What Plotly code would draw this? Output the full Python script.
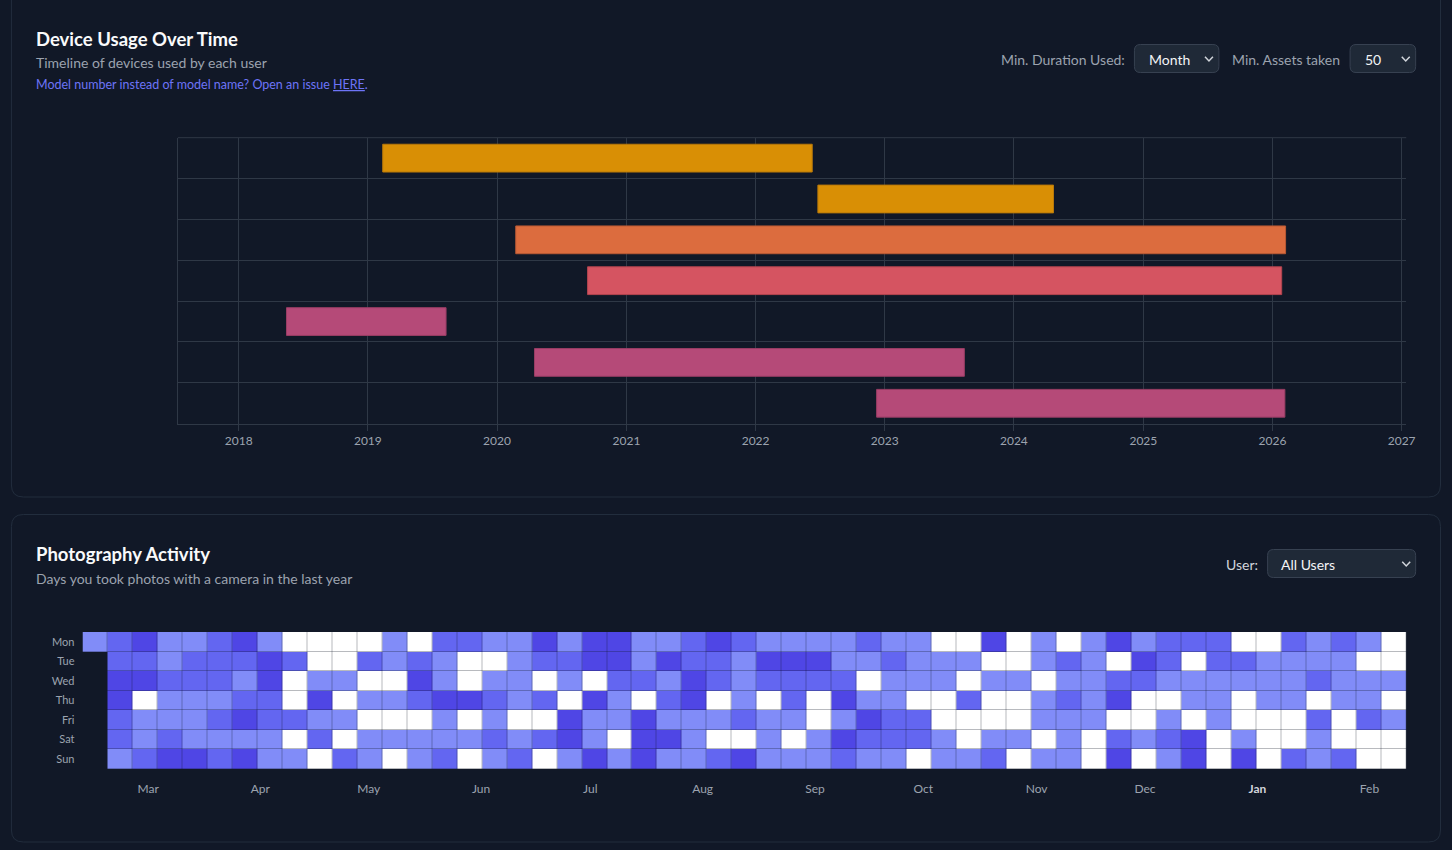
import pandas as pd
import plotly.graph_objects as go

W, H = 1452, 850
BG = "#111827"
GRID = "#2f3846"
MUTED = "#9ca3af"
FONT = "Lato, 'Noto Sans', sans-serif"

# ---------------- Device usage timeline data ----------------
device_rows = [0, 1, 2, 3, 4, 5, 6]
device_start = ["2019-02-12", "2022-06-26", "2020-02-23", "2020-09-13",
                "2018-05-16", "2020-04-16", "2022-12-09"]
device_end = ["2022-06-10", "2024-04-22", "2026-02-07", "2026-01-27",
              "2019-08-10", "2023-08-14", "2026-02-05"]
device_colors = ["#d98f05", "#d98f05", "#dc6c3e", "#d55461",
                 "#b54a78", "#b54a78", "#b54a78"]
device_edge = ["#b8780a", "#b8780a", "#b95934", "#b3444f",
               "#983d64", "#983d64", "#983d64"]

# ---------------- Photography activity data ----------------
weekdays = ["Mon", "Tue", "Wed", "Thu", "Fri", "Sat", "Sun"]
# levels: 1 light, 2 medium, 3 dark, 4 white ; None = no day
act_mon = [1,2,3,1,1,2,3,1,4,4, 4,4,1,4,2,2,1,1,3,1, 3,3,1,1,2,3,2,1,1,1,
           1,2,1,1,4,4,3,4,1,4, 1,3,1,2,2,2,4,4,2,1, 2,1,4]
act_tue = [None,2,2,1,2,2,2,3,2,4, 4,2,1,2,1,4,4,1,2,2, 3,3,1,3,2,2,1,3,3,3,
           1,1,2,1,1,1,4,4,1,2, 1,4,3,2,4,2,2,1,1,1, 1,4,4]
act_wed = [None,3,3,2,2,2,1,3,4,1, 1,4,4,3,1,4,1,1,4,1, 4,2,2,1,3,2,1,2,2,2,
           2,4,1,1,1,4,1,1,4,1, 1,2,2,1,1,1,1,1,1,2, 1,1,1]
act_thu = [None,3,4,1,1,1,2,2,4,3, 4,1,1,2,3,3,2,1,2,4, 3,1,4,2,3,4,1,4,2,4,
           3,1,1,4,4,2,4,4,1,2, 1,3,4,4,1,1,4,1,1,4, 1,1,4]
act_fri = [None,2,1,1,1,2,3,2,2,1, 1,4,4,4,1,4,1,4,4,3, 1,1,3,1,1,1,2,1,1,4,
           1,3,2,2,4,4,4,4,1,1, 1,4,4,1,4,1,4,4,4,2, 4,2,1]
act_sat = [None,2,1,2,1,1,1,1,4,2, 4,1,1,1,1,1,2,1,2,3, 1,4,3,3,1,4,4,1,4,1,
           3,2,2,2,1,4,1,1,4,1, 4,2,1,2,3,4,1,4,4,1, 4,4,4]
act_sun = [None,1,2,3,3,2,3,1,1,4, 2,1,4,1,2,4,1,2,4,1, 3,1,3,1,1,2,3,1,1,1,
           2,1,1,4,1,1,2,4,1,1, 4,3,4,1,3,4,3,4,2,1, 2,4,4]
week_columns = list(range(53))
month_labels = ["Mar", "Apr", "May", "Jun", "Jul", "Aug", "Sep", "Oct",
                "Nov", "Dec", "<span style='color:#d1d5db'><b>Jan</b></span>", "Feb"]
month_positions = [2.13, 6.62, 10.96, 15.46, 19.83, 24.33, 28.83, 33.16,
                   37.7, 42.04, 46.54, 51.03]
level_colors = ["#818cf8", "#6366f1", "#4f46e5", "#ffffff"]


def px(x):
    return x / W


def py(y):
    return 1 - y / H


def rrect(x0, y0, x1, y1, r):
    return (f"M{px(x0+r)},{py(y0)} L{px(x1-r)},{py(y0)} "
            f"Q{px(x1)},{py(y0)} {px(x1)},{py(y0+r)} L{px(x1)},{py(y1-r)} "
            f"Q{px(x1)},{py(y1)} {px(x1-r)},{py(y1)} L{px(x0+r)},{py(y1)} "
            f"Q{px(x0)},{py(y1)} {px(x0)},{py(y1-r)} L{px(x0)},{py(y0+r)} "
            f"Q{px(x0)},{py(y0)} {px(x0+r)},{py(y0)} Z")


def chevron(cx, cy):
    return (f"M{px(cx-4)},{py(cy-2.2)} L{px(cx)},{py(cy+2)} "
            f"L{px(cx+4)},{py(cy-2.2)}")


fig = go.Figure()

starts = pd.to_datetime(device_start)
ends = pd.to_datetime(device_end)
durations = [(e - s).total_seconds() * 1000 for s, e in zip(starts, ends)]

fig.add_trace(go.Bar(
    orientation="h", y=device_rows, x=durations, base=device_start,
    width=0.68, marker=dict(color=device_colors, line=dict(color=device_edge, width=1)),
    xaxis="x", yaxis="y", hoverinfo="skip", showlegend=False,
))

n = len(level_colors)
cs = []
for i, c in enumerate(level_colors):
    cs.append([i / n, c])
    cs.append([(i + 1) / n, c])

fig.add_trace(go.Heatmap(
    z=[act_mon, act_tue, act_wed, act_thu, act_fri, act_sat, act_sun],
    x=week_columns, y=list(range(7)),
    colorscale=cs, zmin=0.5, zmax=4.5, showscale=False,
    xgap=0.3, ygap=0.3, hoverongaps=False, hoverinfo="skip",
    xaxis="x2", yaxis="y2",
))

shapes = []
# cards
for (y0, y1) in [(-20, 497), (514.5, 842)]:
    shapes.append(dict(type="path", path=rrect(11.5, y0, 1449.5, y1, 12),
                       xref="paper", yref="paper", line=dict(color="#222d3d", width=1),
                       fillcolor="rgba(0,0,0,0)", layer="below"))
# select boxes
for (x0, y0, x1, y1) in [(1141, 44, 1227, 73), (1358, 44, 1425, 73), (1275, 549, 1425, 578)]:
    shapes.append(dict(type="path", path=rrect(x0 + 0.5, y0 + 0.5, x1 - 0.5, y1 - 0.5, 6),
                       xref="paper", yref="paper", line=dict(color="#374151", width=1),
                       fillcolor="#1f2937", layer="above"))
for (cx, cy) in [(1216.5, 59), (1414.5, 59), (1415, 564)]:
    shapes.append(dict(type="path", path=chevron(cx, cy), xref="paper", yref="paper",
                       line=dict(color="#d1d5db", width=1.5)))
# top border line of the timeline plot
shapes.append(dict(type="line", xref="paper", yref="paper", x0=px(179), x1=px(1415),
                   y0=py(137.7), y1=py(137.7), line=dict(color=GRID, width=1)))


def ann(text, x, y, size, color, anchor="left", bold=False):
    return dict(text=f"<b>{text}</b>" if bold else text, x=px(x), y=py(y),
                xref="paper", yref="paper", xanchor=anchor, yanchor="middle",
                showarrow=False, font=dict(family=FONT, size=size, color=color))


annotations = [
    ann("Device Usage Over Time", 34, 39, 18.5, "#f9fafb", bold=True),
    ann("Timeline of devices used by each user", 34, 63, 14, MUTED),
    ann("Model number instead of model name? Open an issue "
        "<span style='text-decoration:underline'>HERE</span>.", 34, 85, 12.5, "#6d74f7"),
    ann("Min. Duration Used:", 1134, 59, 14, MUTED, anchor="right"),
    ann("Month", 1154, 59, 14, "#f3f4f6"),
    ann("Min. Assets taken", 1350, 59, 14, MUTED, anchor="right"),
    ann("50", 1371, 59, 14, "#f3f4f6"),
    ann("Photography Activity", 34, 554, 18.5, "#f9fafb", bold=True),
    ann("Days you took photos with a camera in the last year", 34, 578, 14, MUTED),
    ann("User:", 1268, 564, 14, "#d1d5db", anchor="right"),
    ann("All Users", 1287, 564, 14, "#f3f4f6"),
]

fig.update_layout(
    width=W, height=H, autosize=False, margin=dict(l=0, r=0, t=0, b=0),
    paper_bgcolor=BG, plot_bgcolor=BG,
    font=dict(family=FONT, color=MUTED),
    shapes=shapes, annotations=annotations, showlegend=False,
    barmode="overlay",
    xaxis=dict(domain=[px(179), px(1415)], anchor="y", type="date",
               range=["2017-07-13", "2027-01-14"], dtick="M12", tick0="2018-01-01",
               tickformat="%Y", showgrid=True, gridcolor=GRID, gridwidth=1,
               ticks="outside", ticklen=6, tickcolor=GRID, showline=True,
               linecolor=GRID, zeroline=False, fixedrange=True,
               tickfont=dict(size=12, color=MUTED, family=FONT)),
    yaxis=dict(domain=[py(423.7), py(137.7)], anchor="x", range=[6.5, -0.5],
               tickvals=[r - 0.5 for r in range(8)], showticklabels=False,
               showgrid=True, gridcolor=GRID, showline=True, linecolor=GRID,
               zeroline=False, ticks="", fixedrange=True),
    xaxis2=dict(domain=[px(83), px(1415)], anchor="y2", range=[-0.5, 52.5],
                tickvals=month_positions, ticktext=month_labels, showgrid=False,
                zeroline=False, ticks="", showline=False, ticklabelstandoff=11,
                tickfont=dict(size=12, color=MUTED, family=FONT), fixedrange=True),
    yaxis2=dict(domain=[py(769), py(632)], anchor="x2", range=[6.5, -0.5],
                tickvals=list(range(7)), ticktext=weekdays, showgrid=False,
                zeroline=False, ticks="", showline=False, ticklabelstandoff=7,
                tickfont=dict(size=11, color=MUTED, family=FONT), fixedrange=True),
)

fig.write_html(
    "out.html",
    config={"displayModeBar": False, "responsive": False},
    post_script="document.body.style.margin='0';document.body.style.overflow='hidden';",
)
